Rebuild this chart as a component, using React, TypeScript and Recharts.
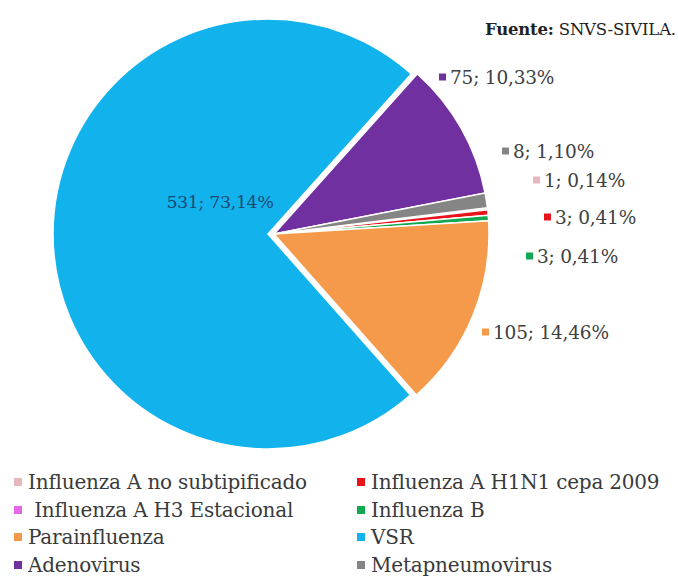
import React from 'react';
import { PieChart, Pie, Cell, Legend } from 'recharts';

const categories = [
  'Influenza A no subtipificado',
  'Influenza A H1N1 cepa 2009',
  ' Influenza A H3 Estacional',
  'Influenza B',
  'Parainfluenza',
  'VSR',
  'Adenovirus',
  'Metapneumovirus',
];
const cases = [1, 3, 0, 3, 105, 531, 75, 8];
const COLORS = ['#e6b8bd', '#e8141c', '#e766e6', '#12a84f', '#f59a4a', '#12b2ec', '#7030a0', '#858585'];

const data = categories.map((name, i) => ({ name, value: cases[i] }));
const total = cases.reduce((a, b) => a + b, 0);

const FONT = '"DejaVu Serif", serif';

// label anchor offsets from pie centre (Excel places these by hand)
const LABEL_OFFSETS: Record<number, [number, number]> = {
  0: [259, -54],
  1: [270, -17],
  3: [252, 22],
  4: [208, 98],
  5: [-54, -32],
  6: [165, -157],
  7: [228, -83],
};

const fmt = (v: number) => `${v}; ${((v / total) * 100).toFixed(2).replace('.', ',')}%`;

const renderLabel = (props: any) => {
  const { cx, cy, index, value } = props;
  const off = LABEL_OFFSETS[index];
  if (!off || !value) return null;
  const x = cx + off[0];
  const y = cy + off[1];
  if (index === 5) {
    return (
      <text x={x} y={y} textAnchor="middle" dominantBaseline="central" fontFamily={FONT} fontSize={17.5} fill="#1b4a75" letterSpacing={-0.4}>
        {fmt(value)}
      </text>
    );
  }
  return (
    <g>
      <rect x={x} y={y - 3.5} width={7} height={7} fill={COLORS[index]} />
      <text x={x + 11} y={y} dominantBaseline="central" fontFamily={FONT} fontSize={18.5} fill="#404040" letterSpacing={-0.2}>
        {fmt(value)}
      </text>
    </g>
  );
};

const renderLegend = () => (
  <div style={{ display: 'grid', gridTemplateColumns: '343px 335px', fontFamily: FONT, fontSize: 20, color: '#3a3a3a', letterSpacing: -0.2 }}>
    {data.map((d, i) => (
      <div key={d.name} style={{ display: 'flex', alignItems: 'center', height: 27.7, paddingLeft: 14, whiteSpace: 'pre' }}>
        <span style={{ width: 8, height: 8, background: COLORS[i], marginRight: 6, flex: 'none' }} />
        {d.name}
      </div>
    ))}
  </div>
);

export default function App() {
  return (
    <div style={{ position: 'absolute', left: 0, top: 0, width: 678, height: 577, background: '#fff', overflow: 'hidden' }}>
      <PieChart width={678} height={577}>
        <Pie
          data={data}
          dataKey="value"
          nameKey="name"
          cx={269}
          cy={229}
          outerRadius={215}
          startAngle={7}
          endAngle={-353}
          stroke="#fff"
          strokeWidth={1.5}
          label={renderLabel}
          labelLine={false}
          isAnimationActive={false}
        >
          {data.map((d, i) => (
            <Cell key={d.name} fill={COLORS[i]} style={i === 5 ? { transform: 'translate(-6px, 0px)' } : undefined} />
          ))}
        </Pie>
        <Legend content={renderLegend} wrapperStyle={{ left: 0, top: 468, width: 678 }} />
      </PieChart>
      <div style={{ position: 'absolute', left: 485, top: 20, fontFamily: FONT, fontSize: 16.5, letterSpacing: -0.2, color: '#222', whiteSpace: 'nowrap' }}>
        <b>Fuente:</b> SNVS-SIVILA.
      </div>
    </div>
  );
}
